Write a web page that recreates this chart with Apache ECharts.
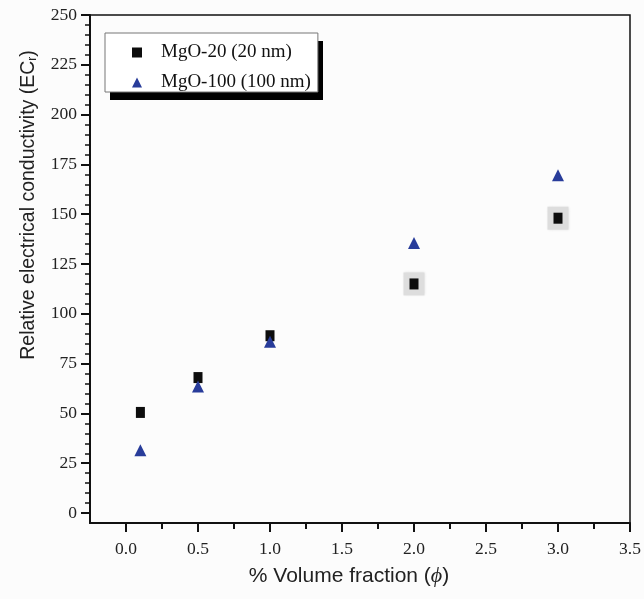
<!DOCTYPE html>
<html>
<head>
<meta charset="utf-8">
<script src="https://cdn.jsdelivr.net/npm/echarts@6/dist/echarts.min.js"></script>
<style>
  html, body { margin: 0; padding: 0; background: #fcfcfc; }
  #chart { width: 644px; height: 599px; }
</style>
</head>
<body>
<div id="chart"></div>
<script>
// Volume fraction (%) of the MgO nanoparticles
const volumeFraction = [0.1, 0.5, 1.0, 2.0, 3.0];
// Relative electrical conductivity for each particle size
const mgo20 = [50.5, 68, 89, 115, 148];
const mgo100 = [31.5, 63.5, 86, 135.5, 169.5];
// Points of the 20 nm series drawn with a grey backing square
const backedPoints = [3, 4];

// Axis tick values
const xMajorTicks = [0, 0.5, 1.0, 1.5, 2.0, 2.5, 3.0, 3.5];
const xMinorTicks = [0.25, 0.75, 1.25, 1.75, 2.25, 2.75, 3.25];
const yMajorTicks = [0, 25, 50, 75, 100, 125, 150, 175, 200, 225, 250];
const yMinorTicks = [];
for (let v = 0; v <= 250; v += 5) if (v % 25 !== 0) yMinorTicks.push(v);

const seriesNames = ['MgO-20 (20 nm)', 'MgO-100 (100 nm)'];

const serif = '"Liberation Serif", "DejaVu Serif", serif';
const sans = '"Liberation Sans", Arial, sans-serif';

const pts = (ys) => volumeFraction.map((x, i) => [x, ys[i]]);

const chart = echarts.init(document.getElementById('chart'), null, { renderer: 'canvas' });

const X_MIN = -0.25, X_MAX = 3.5, Y_MIN = -5, Y_MAX = 250;

const baseX = { type: 'value', min: X_MIN, max: X_MAX, gridIndex: 0, splitLine: { show: false } };
const baseY = { type: 'value', min: Y_MIN, max: Y_MAX, gridIndex: 0, splitLine: { show: false } };

// Legend frame geometry (box plus its solid drop shadow)
const LEGEND_BOX = { left: 105, top: 33, width: 213, height: 59 };
const SHADOW_OFFSET = [5, 8];

chart.setOption({
  backgroundColor: '#fcfcfc',
  animation: false,
  grid: {
    left: 90, right: 14, top: 15, bottom: 76,
    show: true, borderColor: '#111', borderWidth: 1.5, backgroundColor: 'transparent'
  },
  graphic: [
    {
      type: 'rect',
      z: 1,
      silent: true,
      shape: {
        x: LEGEND_BOX.left + SHADOW_OFFSET[0],
        y: LEGEND_BOX.top + SHADOW_OFFSET[1],
        width: LEGEND_BOX.width,
        height: LEGEND_BOX.height
      },
      style: { fill: '#000' }
    }
  ],
  legend: {
    orient: 'vertical',
    left: LEGEND_BOX.left, top: LEGEND_BOX.top,
    padding: [10, 7, 0, 27],
    itemGap: 11,
    itemWidth: 10, itemHeight: 10,
    backgroundColor: '#ffffff',
    borderColor: '#777',
    borderWidth: 1,
    z: 5,
    textStyle: { fontFamily: serif, fontSize: 19, color: '#111', padding: [0, 0, 0, 14] },
    data: [
      { name: seriesNames[0], icon: 'rect', itemStyle: { opacity: 1 } },
      { name: seriesNames[1], icon: 'triangle', itemStyle: { opacity: 1 } }
    ]
  },
  xAxis: [
    Object.assign({}, baseX, {
      name: '% Volume fraction ({i|ϕ})',
      nameLocation: 'middle',
      nameGap: 42,
      nameTextStyle: {
        fontFamily: sans, fontSize: 21, color: '#222', padding: [0, 22, 0, 0],
        rich: { i: { fontFamily: serif, fontStyle: 'italic', fontSize: 22, color: '#222' } }
      },
      axisLine: { onZero: false, lineStyle: { color: '#111', width: 2 } },
      axisTick: { inside: false, length: 9, lineStyle: { color: '#111', width: 2 }, customValues: xMajorTicks },
      axisLabel: {
        margin: 17, fontFamily: serif, fontSize: 17.5, color: '#222',
        customValues: xMajorTicks, formatter: (v) => Number(v).toFixed(1)
      }
    }),
    Object.assign({}, baseX, {
      position: 'bottom',
      axisLine: { show: false, onZero: false },
      axisTick: { inside: false, length: 6, lineStyle: { color: '#111', width: 2 }, customValues: xMinorTicks },
      axisLabel: { show: false }
    })
  ],
  yAxis: [
    Object.assign({}, baseY, {
      name: 'Relative electrical conductivity (EC{s|r})',
      nameLocation: 'middle',
      nameGap: 51,
      nameTextStyle: {
        fontFamily: sans, fontSize: 19.5, color: '#222', padding: [0, 0, 0, 128],
        rich: { s: { fontFamily: sans, fontSize: 12, color: '#222', verticalAlign: 'bottom', padding: [9, 0, 0, 0] } }
      },
      axisLine: { onZero: false, lineStyle: { color: '#111', width: 2 } },
      axisTick: { inside: false, length: 9, lineStyle: { color: '#111', width: 2 }, customValues: yMajorTicks },
      axisLabel: {
        margin: 13, fontFamily: serif, fontSize: 17.5, color: '#222',
        customValues: yMajorTicks
      }
    }),
    Object.assign({}, baseY, {
      position: 'left',
      axisLine: { show: false, onZero: false },
      axisTick: { inside: false, length: 5, lineStyle: { color: '#111', width: 1.5 }, customValues: yMinorTicks },
      axisLabel: { show: false }
    })
  ],
  series: [
    {
      name: 'backing',
      type: 'scatter',
      xAxisIndex: 0, yAxisIndex: 0,
      symbol: 'rect',
      symbolSize: [21, 23],
      itemStyle: { color: '#dddddd', opacity: 1, shadowColor: 'rgba(0,0,0,0.12)', shadowBlur: 3 },
      data: backedPoints.map((i) => [volumeFraction[i], mgo20[i]]),
      z: 1,
      silent: true
    },
    {
      name: seriesNames[0],
      type: 'scatter',
      xAxisIndex: 0, yAxisIndex: 0,
      symbol: 'rect',
      symbolSize: [9, 11],
      itemStyle: { color: '#0d0d0d', opacity: 1 },
      data: pts(mgo20),
      z: 2
    },
    {
      name: seriesNames[1],
      type: 'scatter',
      xAxisIndex: 0, yAxisIndex: 0,
      symbol: 'triangle',
      symbolSize: [12, 12],
      itemStyle: { color: '#283c9a', opacity: 1 },
      data: pts(mgo100),
      z: 3
    }
  ]
});
</script>
</body>
</html>
